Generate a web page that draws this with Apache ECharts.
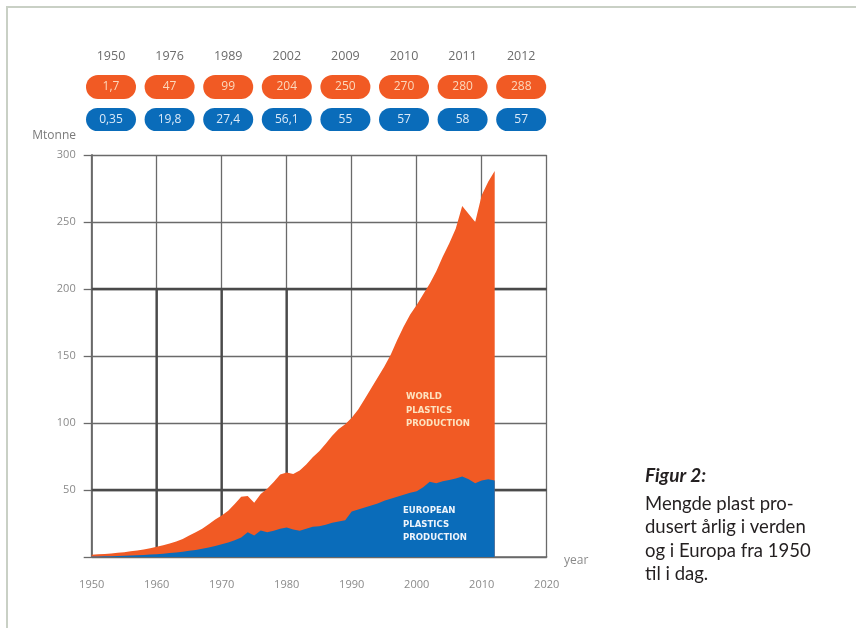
<!DOCTYPE html>
<html>
<head>
<meta charset="utf-8">
<script src="https://cdn.jsdelivr.net/npm/echarts@6/dist/echarts.min.js"></script>
<style>
  html, body { margin: 0; padding: 0; background: #fff; }
  #chart { width: 856px; height: 628px; }
</style>
</head>
<body>
<div id="chart"></div>
<script>
// Annual plastics production, million tonnes
const years = [
  1950, 1951, 1952, 1953, 1954, 1955, 1956, 1957, 1958, 1959,
  1960, 1961, 1962, 1963, 1964, 1965, 1966, 1967, 1968, 1969,
  1970, 1971, 1972, 1973, 1974, 1975, 1976, 1977, 1978, 1979,
  1980, 1981, 1982, 1983, 1984, 1985, 1986, 1987, 1988, 1989,
  1990, 1991, 1992, 1993, 1994, 1995, 1996, 1997, 1998, 1999,
  2000, 2001, 2002, 2003, 2004, 2005, 2006, 2007, 2008, 2009,
  2010, 2011, 2012
];
const world = [
  1.7, 2.0, 2.3, 2.7, 3.1, 3.6, 4.2, 4.9, 5.6, 6.5,
  7.7, 8.8, 10.0, 11.5, 13.5, 16.0, 18.5, 21.0, 24.5, 28.0,
  31.0, 34.5, 39.5, 45.0, 45.5, 40.5, 47.0, 51.0, 56.0, 61.5,
  63.0, 62.0, 64.5, 69.0, 74.5, 79.0, 84.5, 90.5, 95.5, 99.0,
  104.0, 110.0, 118.0, 126.0, 134.0, 142.0, 151.0, 162.0, 172.0, 181.0,
  188.0, 196.0, 204.0, 213.0, 224.0, 234.0, 245.0, 262.0, 256.0, 250.0,
  270.0, 280.0, 288.0
];
const europe = [
  0.35, 0.45, 0.55, 0.65, 0.8, 0.95, 1.1, 1.3, 1.5, 1.8,
  2.1, 2.5, 2.9, 3.4, 4.0, 4.6, 5.3, 6.1, 7.0, 8.2,
  9.5, 10.8, 12.5, 14.5, 18.5, 16.0, 19.8, 18.5, 19.5, 21.0,
  22.0, 20.5, 19.5, 21.0, 22.5, 23.0, 24.0, 25.5, 26.5, 27.4,
  34.0, 35.5, 37.0, 38.5, 40.0, 42.0, 43.5, 45.0, 46.5, 48.0,
  49.0, 52.0, 56.1, 55.0, 56.5, 57.5, 58.5, 60.0, 58.0, 55.0,
  57.0, 58.0, 57.0
];

// Headline figures shown in the rows of pills above the chart
const keyYears = ['1950', '1976', '1989', '2002', '2009', '2010', '2011', '2012'];
const keyWorld = [1.7, 47, 99, 204, 250, 270, 280, 288];
const keyEurope = [0.35, 19.8, 27.4, 56.1, 55, 57, 58, 57];

// Grid lines drawn heavier
const heavyY = [50, 200];
const heavyX = [1960, 1970, 1980];

const ORANGE = '#f15a24';
const BLUE = '#0a6cba';
const GRID = '#6a6a6a';
const HEAVY = '#4a4a4a';
const NUM_FONT = '"Open Sans", "Noto Sans", sans-serif';

const fmt = v => String(v).replace('.', ',');

const chart = echarts.init(document.getElementById('chart'), null, { renderer: 'canvas' });

// Pills and headers
const pillGraphics = [];
const colX0 = 111, colStep = 58.6, pillW = 50, pillH = 24;
keyYears.forEach((yr, i) => {
  const cx = colX0 + i * colStep;
  pillGraphics.push({
    type: 'text', x: cx, y: 56,
    style: { text: yr, fill: '#6b6b6b', font: '12.5px ' + NUM_FONT, align: 'center', verticalAlign: 'middle' }
  });
  pillGraphics.push({
    type: 'group', x: cx - pillW / 2, y: 75,
    children: [
      { type: 'rect', shape: { x: 0, y: 0, width: pillW, height: pillH, r: 12 }, style: { fill: ORANGE } },
      { type: 'text', x: pillW / 2, y: pillH / 2,
        style: { text: fmt(keyWorld[i]), fill: '#fcd9bd', font: '12px ' + NUM_FONT, align: 'center', verticalAlign: 'middle' } }
    ]
  });
  pillGraphics.push({
    type: 'group', x: cx - pillW / 2, y: 108,
    children: [
      { type: 'rect', shape: { x: 0, y: 0, width: pillW, height: pillH - 1, r: 11.5 }, style: { fill: BLUE } },
      { type: 'text', x: pillW / 2, y: (pillH - 1) / 2,
        style: { text: fmt(keyEurope[i]), fill: '#dbeaf8', font: '12px ' + NUM_FONT, align: 'center', verticalAlign: 'middle' } }
    ]
  });
});

// Heavier grid segments as plain line series on the bottom layer
const heavySeries = [
  ...heavyY.map(v => ({ from: [1950, v], to: [2020, v] })),
  ...heavyX.map(v => ({ from: [v, 0], to: [v, 200] }))
].map(seg => ({
  type: 'line', zlevel: 0, z: 1, silent: true, symbol: 'none', showSymbol: false,
  data: [seg.from, seg.to],
  lineStyle: { color: HEAVY, width: 2.4 },
  tooltip: { show: false }
}));

const areaLabelFont = 'bold 9.5px "Liberation Sans Narrow", "DejaVu Sans Condensed", sans-serif';

const option = {
  backgroundColor: '#ffffff',
  animation: false,
  grid: { left: 91.7, right: 309.3, top: 155, bottom: 71, containLabel: false },
  xAxis: {
    type: 'value', min: 1950, max: 2020, interval: 10,
    axisLine: { show: true, lineStyle: { color: GRID, width: 1.5 } },
    axisTick: { show: false },
    axisLabel: { color: '#8a8a8a', fontSize: 11, fontFamily: NUM_FONT, margin: 22, formatter: v => String(v) },
    splitLine: { show: true, lineStyle: { color: GRID, width: 1.3 } }
  },
  yAxis: {
    type: 'value', min: 0, max: 300, interval: 50,
    axisLine: { show: true, lineStyle: { color: GRID, width: 1.8 } },
    axisTick: { show: true, inside: false, length: 8, lineStyle: { color: GRID, width: 1.3 } },
    axisLabel: {
      color: '#8a8a8a', fontSize: 11, fontFamily: NUM_FONT, margin: 16,
      formatter: v => (v === 0 ? '' : String(v))
    },
    splitLine: { show: true, lineStyle: { color: GRID, width: 1.3 } }
  },
  series: [
    ...heavySeries,
    {
      name: 'World', type: 'line', zlevel: 1, z: 3,
      data: years.map((y, i) => [y, world[i]]),
      symbol: 'none', showSymbol: false,
      lineStyle: { width: 0 },
      areaStyle: { color: ORANGE, opacity: 1 }
    },
    {
      name: 'Europe', type: 'line', zlevel: 1, z: 4,
      data: years.map((y, i) => [y, europe[i]]),
      symbol: 'none', showSymbol: false,
      lineStyle: { width: 0 },
      areaStyle: { color: BLUE, opacity: 1 }
    }
  ],
  graphic: [
    // frame
    { type: 'line', shape: { x1: 6, y1: 7, x2: 856, y2: 7 }, style: { stroke: '#c9d0c5', lineWidth: 2 } },
    { type: 'line', shape: { x1: 7, y1: 6, x2: 7, y2: 628 }, style: { stroke: '#c9d0c5', lineWidth: 2 } },
    ...pillGraphics,
    { type: 'text', x: 76, y: 136,
      style: { text: 'Mtonne', fill: '#7a7a7a', font: '12px ' + NUM_FONT, align: 'right', verticalAlign: 'middle' } },
    { type: 'text', x: 564, y: 561,
      style: { text: 'year', fill: '#8a8a8a', font: '12px ' + NUM_FONT, align: 'left', verticalAlign: 'middle' } },
    { type: 'text', x: 406, y: 390, zlevel: 2, z: 10,
      style: { text: 'WORLD\nPLASTICS\nPRODUCTION', fill: '#fde3c0', font: areaLabelFont, lineHeight: 13.5, align: 'left', verticalAlign: 'top' } },
    { type: 'text', x: 403, y: 504, zlevel: 2, z: 10,
      style: { text: 'EUROPEAN\nPLASTICS\nPRODUCTION', fill: '#eef4fb', font: areaLabelFont, lineHeight: 13.5, align: 'left', verticalAlign: 'top' } },
    { type: 'text', x: 645, y: 476,
      style: { text: 'Figur 2:', fill: '#231f20', font: 'italic bold 19px Lato, "Open Sans", sans-serif', align: 'left', verticalAlign: 'middle' } },
    { type: 'text', x: 645, y: 492,
      style: { text: 'Mengde plast pro-\ndusert årlig i verden\nog i Europa fra 1950\ntil i dag.', fill: '#231f20',
               font: '18.5px Lato, "Open Sans", sans-serif', lineHeight: 23.5, align: 'left', verticalAlign: 'top' } }
  ]
};

chart.setOption(option);
</script>
</body>
</html>
